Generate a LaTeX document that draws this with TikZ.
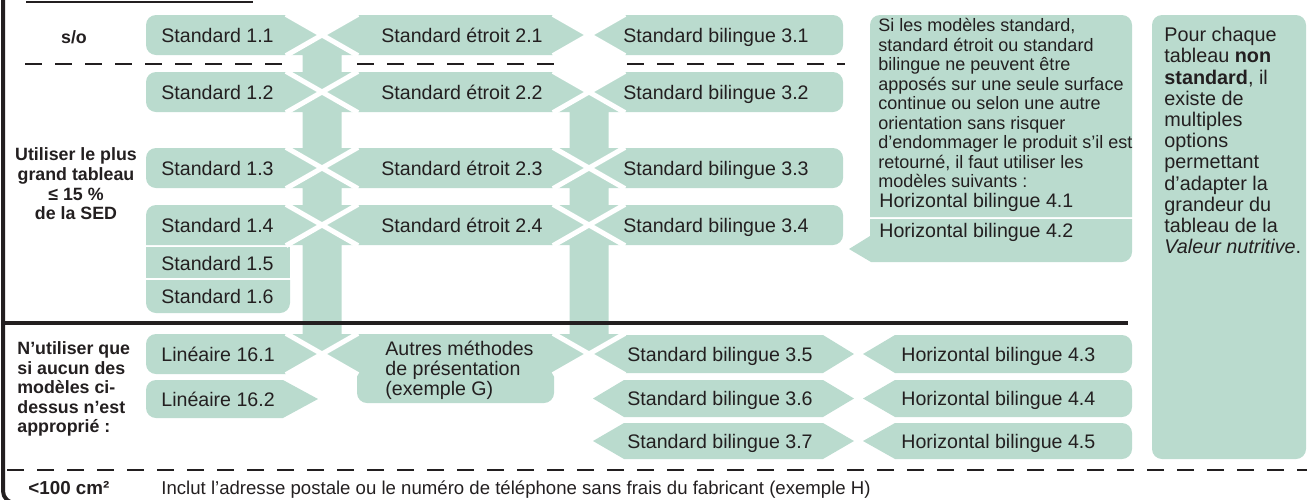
\documentclass[tikz,border=0pt]{standalone}
\usepackage{fontspec}
\setmainfont{Liberation Sans}
\usepackage{xcolor}
\usepackage{tikz}
\usetikzlibrary{calc}

\begin{document}
\begin{tikzpicture}[x=0.5pt,y=-0.5pt,
		lbl/.style={anchor=base west,inner sep=0pt,text=mydark,font=\fontsize{9.8}{11}\selectfont},
		side/.style={inner sep=0pt,text=mydark,font=\bfseries\fontsize{8.9}{9.8}\selectfont},
		note/.style={anchor=north west,inner sep=0pt,text=mydark,align=left},
		gap/.style={white,line width=2.5pt},
		rule/.style={mydark,line width=1pt,dash pattern=on 8.5pt off 6.5pt}]
				% 颜色列表
				\definecolor{mygreen}{RGB}{186,219,206}
				\definecolor{mydark}{RGB}{35,31,32}
				\useasboundingbox (0,0) rectangle (1307,499);
				
				% 交叉点
				\foreach \i/\y in {1/35,2/92,3/168,4/225,5/354} {
					\coordinate (A\i) at (322,\y);
					\coordinate (B\i) at (589,\y);
				}
				
				% 分隔线
				\draw[mydark,line width=1pt] (26,2) -- (253,2);
				\draw[mydark,line width=2pt,rounded corners=6pt] (3,-5) -- (3,503) -- (40,503);
				\draw[rule] (25,64) -- (287,64);
				\draw[rule] (357,64) -- (554,64);
				\draw[rule] (627,64) -- (845,64);
				\draw[rule] (7,470) -- (1307,470);
				
				% 第一列
				\foreach \c in {35,92,168}
				\fill[mygreen] (287,\c-20) [rounded corners=5pt] -- (146,\c-20) -- (146,\c+20) [sharp corners] -- (287,\c+20) -- (322,\c) -- cycle;
				\fill[mygreen] (287,205) [rounded corners=5pt] -- (146,205) [sharp corners] -- (146,245) -- (287,245) -- (322,225) -- cycle;
				\fill[mygreen] (146,247) rectangle (290,278);
				\fill[mygreen] (146,280) [rounded corners=5pt] -- (146,313) -- (290,313) [sharp corners] -- (290,280) -- cycle;
				\fill[mygreen] (287,334) [rounded corners=5pt] -- (146,334) -- (146,374) [sharp corners] -- (287,374) -- (322,354) -- cycle;
				\fill[mygreen] (283,380) [rounded corners=5pt] -- (146,380) -- (146,418) [sharp corners] -- (283,418) -- (318,399) -- cycle;
				
				% 第二列
				\foreach \c in {35,92,168,225}
				\fill[mygreen] (322,\c) -- (357,\c-20) -- (554,\c-20) -- (589,\c) -- (554,\c+20) -- (357,\c+20) -- cycle;
				\fill[mygreen] (322,354) -- (357,334) -- (554,334) -- (589,354) -- (554,374) [rounded corners=5pt] -- (554,403) -- (357,403) [sharp corners] -- (357,374) -- cycle;
				
				% 第三列
				\foreach \c in {35,92,168,225}
				\fill[mygreen] (589,\c) -- (624,\c-20) [rounded corners=5pt] -- (843,\c-20) -- (843,\c+20) [sharp corners] -- (624,\c+20) -- cycle;
				\foreach \c/\t/\b/\l in {354/335/373/589,398.5/380/417/593,441/423/459/593} {
					\fill[mygreen] (\l,\c) -- (624,\t) -- (823,\t) -- (854,\c) -- (823,\b) -- (624,\b) -- cycle;
					\fill[mygreen] (863,\c) -- (895,\t) [rounded corners=5pt] -- (1132,\t) -- (1132,\b) [sharp corners] -- (895,\b) -- cycle;
				}
				
				% 右侧说明框
				\fill[mygreen] (870,217) [rounded corners=5pt] -- (870,15) -- (1132,15) [sharp corners] -- (1132,217) -- cycle;
				\fill[mygreen] (870,219) -- (1132,219) [rounded corners=5pt] -- (1132,262) [sharp corners] -- (871,262) -- (849,249) -- (870,236) -- cycle;
				\fill[mygreen,rounded corners=5pt] (1152,15) rectangle (1306,459);
				
				% 双向箭头
				\foreach \p/\q in {A1/A2,A2/A3,A3/A4,A4/A5,B2/B3,B3/B4,B4/B5}
				\fill[mygreen] (\p) -- ++(35,20) -- ++(-15.5,0) -- ($(\q)+(19.5,-20)$) -- ++(15.5,0) -- (\q) -- ++(-35,-20) -- ++(15.5,0) -- ($(\p)+(-19.5,20)$) -- ++(-15.5,0) -- cycle;
				
				% 白色交叉
				\foreach \j in {A1,A2,A3,A4,A5,B1,B2,B3,B4,B5}
				\draw[gap] ($(\j)+(-36,-20.6)$) -- ($(\j)+(36,20.6)$) ($(\j)+(-36,20.6)$) -- ($(\j)+(36,-20.6)$);
				
				% 粗实线
				\draw[mydark,line width=2pt] (3,323) -- (1128,323);
				
				% 左侧文字
				\node[side,align=center] (so) at (74,37) {s/o};
				\node[side,align=center] (grand) at (76,184) {Utiliser le plus\\grand tableau\\≤ 15 \%\\de la SED};
				\node[side,align=left,anchor=west] (aucun) at (17,389) {N’utiliser que\\si aucun des\\modèles ci-\\dessus n’est\\approprié :};
				\node[side,anchor=base west,font=\bfseries\fontsize{9.4}{11}\selectfont] (petit) at (28,494) {<100 cm²};
				\node[lbl,font=\fontsize{9.3}{11}\selectfont] (inclut) at (161,494) {Inclut l’adresse postale ou le numéro de téléphone sans frais du fabricant (exemple H)};
				
				% 框内文字
				\foreach \c/\n in {35/1,92/2,168/3,225/4} {
					\node[lbl] (s1\n) at (161,\c+7) {Standard 1.\n};
					\node[lbl] (s2\n) at (381,\c+7) {Standard étroit 2.\n};
					\node[lbl] (s3\n) at (623,\c+7) {Standard bilingue 3.\n};
				}
				\node[lbl] (s15) at (161,270) {Standard 1.5};
				\node[lbl] (s16) at (161,303) {Standard 1.6};
				\node[lbl] (lin1) at (161,361) {Linéaire 16.1};
				\node[lbl] (lin2) at (161,406) {Linéaire 16.2};
				\node[note,font=\fontsize{9.8}{10}\selectfont] (autres) at (385,341) {Autres méthodes\\de présentation\\(exemple G)};
				\foreach \c/\n in {354/5,398.5/6,441/7}
				\node[lbl] (s3\n) at (627,\c+7) {Standard bilingue 3.\n};
				\foreach \c/\n in {354/3,398.5/4,441/5}
				\node[lbl] (h4\n) at (901,\c+7) {Horizontal bilingue 4.\n};
				\node[note,font=\fontsize{9}{9.75}\selectfont] (regle) at (878,18) {Si les modèles standard,\\standard étroit ou standard\\bilingue ne peuvent être\\apposés sur une seule surface\\continue ou selon une autre\\orientation sans risquer\\d’endommager le produit s’il est\\retourné, il faut utiliser les\\modèles suivants :};
				\node[lbl] (h41) at (879,207) {Horizontal bilingue 4.1};
				\node[lbl] (h42) at (879,237) {Horizontal bilingue 4.2};
				\node[note,font=\fontsize{9.9}{10.6}\selectfont] (chaque) at (1164,27) {Pour chaque\\tableau \textbf{non}\\\textbf{standard}, il\\existe de\\multiples\\options\\permettant\\d’adapter la\\grandeur du\\tableau de la\\\textit{Valeur nutritive}.};
				
			\end{tikzpicture}
\end{document}
